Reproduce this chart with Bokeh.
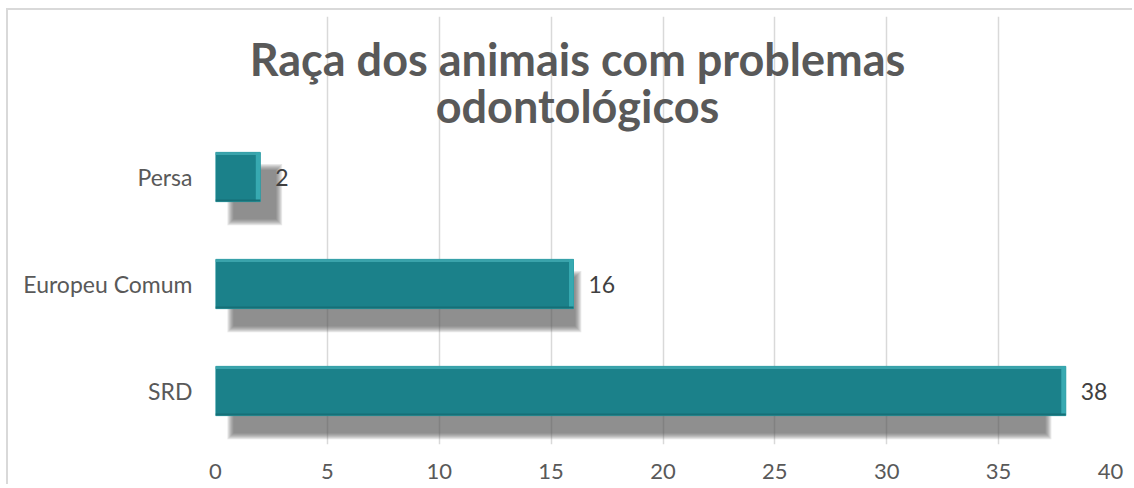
from bokeh.plotting import figure
from bokeh.models import FixedTicker, Range1d, Label, ColumnDataSource
from bokeh.embed import file_html
from bokeh.resources import INLINE
from bokeh.core.properties import value

# ---- data ----
categories = ["SRD", "Europeu Comum", "Persa"]
counts = [38, 16, 2]
x_ticks = [0, 5, 10, 15, 20, 25, 30, 35, 40]
title_lines = ["Raça dos animais com problemas", "odontológicos"]

FONT = "Lato"
TEXT_GRAY = "#595959"

pos = list(range(len(categories)))
half = 0.23

p = figure(width=1126, height=476, output_backend="svg", toolbar_location=None,
           x_range=Range1d(0, 40), y_range=Range1d(-0.5, 3.5),
           min_border_left=207, min_border_right=24, min_border_top=6, min_border_bottom=42)
p.styles = {"border-top": "2px solid #d9d9d9", "border-left": "2px solid #d9d9d9",
            "margin-left": "6px", "margin-top": "8px"}
p.outline_line_color = None
p.background_fill_color = "white"
p.border_fill_color = "white"

# grid
p.xgrid.ticker = FixedTicker(ticks=x_ticks)
p.xgrid.grid_line_color = "#d9d9d9"
p.xgrid.grid_line_width = 1.5
p.ygrid.grid_line_color = None

# shadow (soft, layered)
px_x = 40 / 895.0
px_y = 4 / 428.0
sh_left = [0.8] * len(counts)
sh_right = [0.8 + 0.955 * c for c in counts]
for g in [6, 5, 4, 3, 2, 1, 0]:
    p.quad(left=[l - g * px_x for l in sh_left], right=[r + g * px_x for r in sh_right],
           bottom=[y - half - 0.165 - g * px_y for y in pos],
           top=[y + half - 0.165 + g * px_y for y in pos],
           fill_color="#4a4a4a", fill_alpha=0.13, line_color=None)

# main bars
src = ColumnDataSource(dict(y=pos, right=counts, cat=categories, lab=[str(c) for c in counts]))
p.hbar(y="y", left=0, right="right", height=2 * half, source=src,
       fill_color="#1b818a", line_color="#2a9aa2", line_width=1)
# bevel highlights / shading
p.quad(left=[0] * 3, right=counts, top=[y + half for y in pos], bottom=[y + half - 0.025 for y in pos],
       fill_color="#3aa3ab", line_color=None)
p.quad(left=[c - 0.2 for c in counts], right=counts, top=[y + half for y in pos],
       bottom=[y - half for y in pos], fill_color="#37a9b1", line_color=None)
p.quad(left=[0] * 3, right=counts, top=[y - half + 0.02 for y in pos], bottom=[y - half for y in pos],
       fill_color="#176f76", line_color=None)

# value labels
p.text(x="right", y="y", text="lab", source=src, x_offset=15,
       text_align="left", text_baseline="middle", text_font=value(FONT),
       text_font_size="23px", text_color="#404040")

# axes
p.xaxis.ticker = FixedTicker(ticks=x_ticks)
p.xaxis.axis_line_color = None
p.xaxis.major_tick_line_color = None
p.xaxis.minor_tick_line_color = None
p.xaxis.major_label_standoff = 13
p.xaxis.major_label_text_font = FONT
p.xaxis.major_label_text_font_size = "22px"
p.xaxis.major_label_text_color = TEXT_GRAY

p.yaxis.ticker = FixedTicker(ticks=pos)
p.yaxis.major_label_overrides = {i: c for i, c in zip(pos, categories)}
p.yaxis.axis_line_color = None
p.yaxis.major_tick_line_color = None
p.yaxis.minor_tick_line_color = None
p.yaxis.major_label_standoff = 17
p.yaxis.major_label_text_font = FONT
p.yaxis.major_label_text_font_size = "23px"
p.yaxis.major_label_text_color = TEXT_GRAY

# title (overlaid on plot area, as in the original)
for txt, yy in zip(title_lines, [3.10, 2.66]):
    p.add_layout(Label(x=16.18, y=yy, text=txt, text_align="center", text_baseline="middle",
                       text_font=FONT, text_font_style="bold", text_font_size="45px",
                       text_color=TEXT_GRAY))

open("out.html", "w").write(file_html(p, INLINE))
